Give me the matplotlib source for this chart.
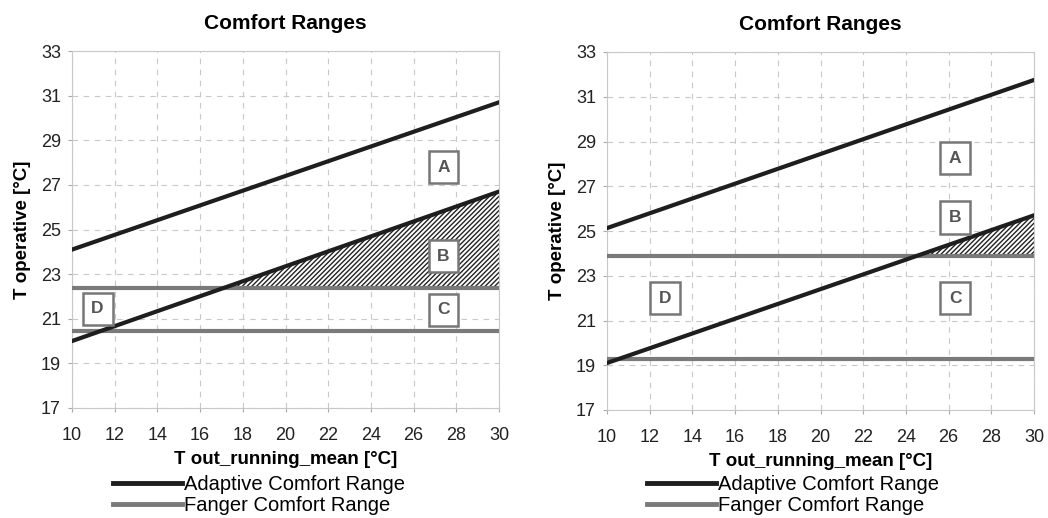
import numpy as np
import matplotlib
matplotlib.use('Agg')
import matplotlib.pyplot as plt

plt.rcParams['font.family'] = ['Liberation Sans', 'DejaVu Sans']
plt.rcParams['hatch.linewidth'] = 1.0

# data
t_out = [10, 30]

# left panel
adapt_upper_l = [24.1, 30.7]
adapt_lower_l = [20.0, 26.7]
fanger_upper_l = 22.4
fanger_lower_l = 20.45
boxes_l = {'A': (27.4, 27.8), 'B': (27.4, 23.8), 'C': (27.4, 21.4), 'D': (11.2, 21.45)}

# right panel
adapt_upper_r = [25.13, 31.75]
adapt_lower_r = [19.1, 25.7]
fanger_upper_r = 23.9
fanger_lower_r = 19.28
boxes_r = {'A': (26.3, 28.25), 'B': (26.3, 25.6), 'C': (26.3, 22.0), 'D': (12.7, 22.0)}

x_ticks = list(range(10, 31, 2))
y_ticks = list(range(17, 34, 2))

DARK = '#1e1e1e'
GREY = '#7a7a7a'


def draw_panel(ax, upper, lower, f_up, f_lo, boxes):
    x = np.array(t_out, dtype=float)
    lo = np.array(lower, dtype=float)
    # hatched zone: above the upper Fanger line and below the lower adaptive line
    xs = np.linspace(x[0], x[1], 200)
    lo_s = np.interp(xs, x, lo)
    ax.fill_between(xs, f_up, lo_s, where=lo_s > f_up, interpolate=True,
                    facecolor='white', edgecolor='#222222', hatch='///////',
                    linewidth=0, zorder=2)

    ax.plot(x, [f_up, f_up], color=GREY, lw=3.0, solid_capstyle='butt', zorder=3)
    ax.plot(x, [f_lo, f_lo], color=GREY, lw=3.0, solid_capstyle='butt', zorder=3)
    ax.plot(x, upper, color=DARK, lw=3.0, zorder=4)
    ax.plot(x, lower, color=DARK, lw=3.0, zorder=4)

    for lab, (bx, by) in boxes.items():
        ax.text(bx, by, lab, ha='center', va='center', fontsize=12.5,
                fontweight='bold', color='#555555', zorder=6,
                bbox=dict(boxstyle='square,pad=0.5', facecolor='white',
                          edgecolor='#777777', linewidth=1.8))

    ax.set_xlim(10, 30)
    ax.set_ylim(17, 33)
    ax.set_xticks(x_ticks)
    ax.set_yticks(y_ticks)
    ax.tick_params(labelsize=13, colors='#aaaaaa', labelcolor='#222222',
                   length=3, width=0.8)
    ax.tick_params(axis='x', pad=11)
    ax.tick_params(axis='y', pad=5)
    ax.grid(True, color='#c8c8c8', linestyle=(0, (5, 5)), linewidth=0.8)
    ax.set_axisbelow(True)
    for sp in ax.spines.values():
        sp.set_color('#c8c8c8')
        sp.set_linewidth(0.8)
    ax.set_title('Comfort Ranges', fontsize=15, fontweight='bold', pad=16)
    ax.set_xlabel('T out_running_mean [°C]', fontsize=13.5, fontweight='bold',
                  labelpad=5)
    ax.set_ylabel('T operative [°C]', fontsize=13.5, fontweight='bold',
                  labelpad=7)


fig = plt.figure(figsize=(10.48, 5.18), dpi=100)
ax1 = fig.add_axes([72 / 1048, 1 - 408 / 518, 427 / 1048, 357 / 518])
ax2 = fig.add_axes([607 / 1048, 1 - 410 / 518, 427 / 1048, 358 / 518])

draw_panel(ax1, adapt_upper_l, adapt_lower_l, fanger_upper_l, fanger_lower_l, boxes_l)
draw_panel(ax2, adapt_upper_r, adapt_lower_r, fanger_upper_r, fanger_lower_r, boxes_r)

for ax, lx in [(ax1, 113), (ax2, 647)]:
    h1, = ax.plot([], [], color=DARK, lw=3.5)
    h2, = ax.plot([], [], color=GREY, lw=3.5)
    fig.legend([h1, h2], ['Adaptive Comfort Range', 'Fanger Comfort Range'],
               loc='upper left', bbox_to_anchor=(lx / 1048, 1 - 475 / 518),
               frameon=False, fontsize=14.5, handlelength=3.45,
               handletextpad=0.1, labelspacing=0.1, borderpad=0,
               borderaxespad=0)

fig.savefig('out.png', dpi=100)
